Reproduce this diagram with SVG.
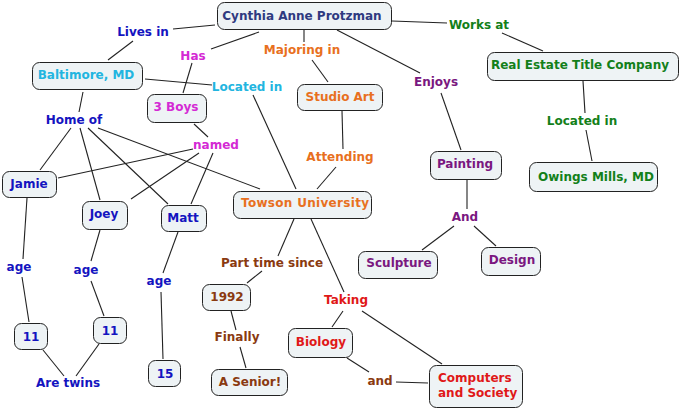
<svg xmlns="http://www.w3.org/2000/svg" width="682" height="411" viewBox="0 0 682 411">
<style>
text{font-family:"DejaVu Sans","Liberation Sans",sans-serif;font-weight:bold;font-size:12px;text-anchor:middle}
.box{fill:#eef3f5;stroke:#222;stroke-width:1}
#links line{stroke:#222;stroke-width:1.1}
.navy{fill:#2f3a80}.blue{fill:#1414c0}.mag{fill:#d42ad4}.org{fill:#e8701e}.cyan{fill:#22b5e0}.grn{fill:#13801a}.pur{fill:#7a1780}.brn{fill:#8a3a10}.red{fill:#e01818}
</style>
<rect width="682" height="411" fill="#fff"/>
<g id="links">
<line x1="215" y1="25" x2="173" y2="29"/>
<line x1="133" y1="41" x2="108" y2="60"/>
<line x1="259" y1="32" x2="211" y2="49"/>
<line x1="192" y1="63" x2="183" y2="93"/>
<line x1="304" y1="30" x2="304" y2="42"/>
<line x1="312" y1="60" x2="328" y2="82"/>
<line x1="337" y1="30" x2="420" y2="73"/>
<line x1="441" y1="93" x2="461" y2="150"/>
<line x1="392" y1="21" x2="447" y2="23"/>
<line x1="502" y1="33" x2="543" y2="51"/>
<line x1="583" y1="81" x2="585" y2="113"/>
<line x1="586" y1="130" x2="592" y2="161"/>
<line x1="145" y1="79" x2="212" y2="85"/>
<line x1="253" y1="95" x2="296" y2="189"/>
<line x1="83" y1="92" x2="79" y2="112"/>
<line x1="71" y1="128" x2="40" y2="170"/>
<line x1="80" y1="128" x2="100" y2="200"/>
<line x1="88" y1="128" x2="168" y2="204"/>
<line x1="98" y1="128" x2="260" y2="189"/>
<line x1="194" y1="124" x2="208" y2="137"/>
<line x1="193" y1="149" x2="58" y2="178"/>
<line x1="199" y1="153" x2="131" y2="199"/>
<line x1="213" y1="153" x2="191" y2="204"/>
<line x1="342" y1="111" x2="343" y2="149"/>
<line x1="336" y1="167" x2="317" y2="189"/>
<line x1="467" y1="180" x2="467" y2="209"/>
<line x1="454" y1="226" x2="422" y2="250"/>
<line x1="474" y1="226" x2="496" y2="246"/>
<line x1="27" y1="198" x2="23" y2="259"/>
<line x1="22" y1="277" x2="29" y2="322"/>
<line x1="100" y1="230" x2="91" y2="261"/>
<line x1="91" y1="281" x2="104" y2="316"/>
<line x1="178" y1="232" x2="163" y2="273"/>
<line x1="161" y1="292" x2="163" y2="359"/>
<line x1="43" y1="350" x2="64" y2="376"/>
<line x1="99" y1="344" x2="76" y2="376"/>
<line x1="294" y1="219" x2="278" y2="256"/>
<line x1="262" y1="271" x2="247" y2="283"/>
<line x1="231" y1="311" x2="236" y2="330"/>
<line x1="240" y1="347" x2="246" y2="368"/>
<line x1="311" y1="219" x2="344" y2="292"/>
<line x1="343" y1="311" x2="332" y2="327"/>
<line x1="362" y1="311" x2="442" y2="364"/>
<line x1="347" y1="358" x2="369" y2="372"/>
<line x1="396" y1="382" x2="428" y2="383"/>
</g>
<g id="cynthia"><rect class="box" x="217.5" y="2.5" width="174" height="27" rx="7"/><text class="navy" x="302" y="19.5">Cynthia Anne Protzman</text></g>
<g id="baltimore"><rect class="box" x="32.5" y="62.5" width="110" height="27" rx="7"/><text class="cyan" x="86" y="79">Baltimore, MD</text></g>
<g id="boys"><rect class="box" x="147.5" y="94.5" width="59" height="28" rx="7"/><text class="mag" x="176" y="111">3 Boys</text></g>
<g id="studioart"><rect class="box" x="297.5" y="84.5" width="85" height="26" rx="7"/><text class="org" x="340" y="101">Studio Art</text></g>
<g id="realestate"><rect class="box" x="487.5" y="52.5" width="191" height="28" rx="7"/><text class="grn" x="580" y="69">Real Estate Title Company</text></g>
<g id="owings"><rect class="box" x="529.5" y="162.5" width="128" height="29" rx="7"/><text class="grn" x="596" y="181" textLength="116" lengthAdjust="spacing">Owings Mills, MD</text></g>
<g id="painting"><rect class="box" x="430.5" y="151.5" width="71" height="28" rx="7"/><text class="pur" x="465" y="168">Painting</text></g>
<g id="sculpture"><rect class="box" x="358.5" y="251.5" width="79" height="27" rx="7"/><text class="pur" x="399" y="267">Sculpture</text></g>
<g id="design"><rect class="box" x="481.5" y="247.5" width="59" height="28" rx="7"/><text class="pur" x="512" y="264">Design</text></g>
<g id="jamie"><rect class="box" x="2.5" y="171.5" width="54" height="26" rx="7"/><text class="blue" x="29" y="188">Jamie</text></g>
<g id="joey"><rect class="box" x="82.5" y="201.5" width="45" height="28" rx="7"/><text class="blue" x="104" y="218">Joey</text></g>
<g id="matt"><rect class="box" x="161.5" y="205.5" width="45" height="26" rx="7"/><text class="blue" x="183" y="222">Matt</text></g>
<g id="towson"><rect class="box" x="233.5" y="191.5" width="138" height="27" rx="7"/><text class="org" x="305" y="207" textLength="128" lengthAdjust="spacing">Towson University</text></g>
<g id="eleven1"><rect class="box" x="14.5" y="323.5" width="33" height="26" rx="7"/><text class="blue" x="31" y="341">11</text></g>
<g id="eleven2"><rect class="box" x="93.5" y="317.5" width="33" height="26" rx="7"/><text class="blue" x="110" y="335">11</text></g>
<g id="fifteen"><rect class="box" x="148.5" y="360.5" width="32" height="26" rx="7"/><text class="blue" x="165" y="378">15</text></g>
<g id="y1992"><rect class="box" x="202.5" y="284.5" width="48" height="26" rx="7"/><text class="brn" x="227" y="301">1992</text></g>
<g id="senior"><rect class="box" x="211.5" y="369.5" width="76" height="26" rx="7"/><text class="brn" x="250" y="386">A Senior!</text></g>
<g id="biology"><rect class="box" x="288.5" y="328.5" width="64" height="29" rx="7"/><text class="red" x="321" y="346">Biology</text></g>
<g id="computers"><rect class="box" x="429.5" y="365.5" width="93" height="42" rx="7"/><text class="red" x="438" y="382" style="text-anchor:start">Computers</text><text class="red" x="438" y="397" style="text-anchor:start">and Society</text></g>
<g id="labels">
<text class="blue" x="143" y="36">Lives in</text>
<text class="mag" x="193" y="60">Has</text>
<text class="org" x="302" y="54">Majoring in</text>
<text class="cyan" x="247" y="91">Located in</text>
<text class="grn" x="479" y="29">Works at</text>
<text class="pur" x="436" y="86">Enjoys</text>
<text class="grn" x="582" y="125">Located in</text>
<text class="blue" x="74" y="124">Home of</text>
<text class="mag" x="216" y="149">named</text>
<text class="org" x="340" y="161">Attending</text>
<text class="pur" x="465" y="221">And</text>
<text class="brn" x="272" y="267">Part time since</text>
<text class="blue" x="19" y="271">age</text>
<text class="blue" x="86" y="274">age</text>
<text class="blue" x="159" y="285">age</text>
<text class="blue" x="68" y="387">Are twins</text>
<text class="brn" x="237" y="341">Finally</text>
<text class="red" x="346" y="304">Taking</text>
<text class="brn" x="380" y="385">and</text>
</g>
</svg>
